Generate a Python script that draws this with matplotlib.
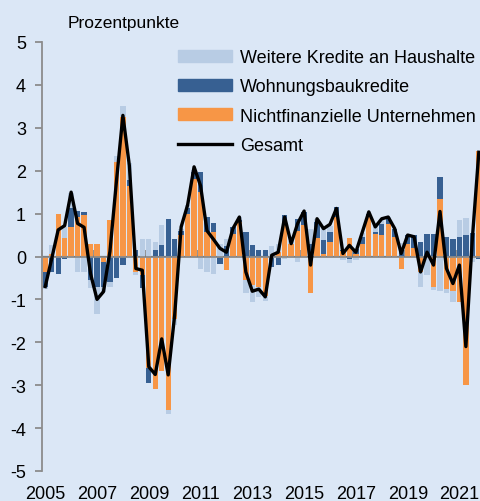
import numpy as np
import matplotlib
matplotlib.use("Agg")
import matplotlib.pyplot as plt
from matplotlib.lines import Line2D
from matplotlib.patches import Patch
from matplotlib.ticker import NullFormatter

plt.rcParams['font.family'] = ['Liberation Sans', 'DejaVu Sans']
plt.rcParams['axes.unicode_minus'] = False

# Quarterly categories 2005Q1 .. 2021Q4
quarters = [f"{y}-Q{q}" for y in range(2005, 2022) for q in range(1, 5)]

# Contributions (percentage points)
unternehmen = [-0.35, 0.05, 1.00, 0.42, 0.69, 0.92, 0.96, 0.28,
               0.30, -0.12, 0.85, 2.20, 3.25, 1.65, -0.36, -0.43,
               -2.60, -3.10, -2.67, -3.58, -1.45, 0.50, 1.00, 1.81,
               1.50, 0.57, 0.57, 0.00, -0.32, 0.53, 0.80, -0.55,
               -0.67, -0.70, -0.92, 0.00, 0.10, 0.80, 0.30, 0.60,
               0.73, -0.86, 0.42, 0.05, 0.34, 0.92, 0.12, 0.42,
               0.05, 0.30, 0.95, 0.53, 0.50, 0.75, 0.45, -0.28,
               0.30, 0.19, -0.36, 0.00, -0.70, 1.35, -0.75, -0.80,
               -1.05, -3.00, 0.00, 2.45]
wohnungsbau = [-0.35, -0.36, -0.40, -0.05, 0.45, 0.15, 0.07, -0.55,
               -0.70, -0.60, -0.60, -0.50, -0.20, 0.13, 0.15, -0.30,
               -0.36, 0.15, 0.26, 0.88, 0.40, 0.10, 0.12, 0.16,
               0.47, 0.35, 0.20, -0.18, 0.25, 0.15, 0.05, 0.57,
               0.26, 0.15, 0.15, -0.25, -0.20, 0.16, 0.00, 0.27,
               0.31, 0.30, 0.38, 0.33, 0.23, 0.23, 0.04, -0.05,
               0.12, 0.15, 0.05, 0.05, 0.25, 0.12, 0.20, 0.20,
               0.19, 0.31, 0.34, 0.53, 0.53, 0.50, 0.45, 0.40,
               0.45, 0.50, 0.55, -0.05]
weitere = [-0.05, 0.22, 0.00, 0.27, 0.33, -0.35, -0.35, -0.19,
           -0.63, -0.10, -0.10, 0.15, 0.25, 0.40, -0.07, 0.40,
           0.40, 0.19, 0.47, -0.08, -0.15, 0.05, 0.08, 0.05,
           -0.28, -0.36, -0.40, 0.30, 0.15, 0.00, 0.07, -0.31,
           -0.38, -0.25, -0.12, 0.25, 0.20, -0.05, 0.05, -0.12,
           0.00, 0.35, 0.08, 0.30, 0.15, 0.00, -0.08, -0.10,
           -0.07, 0.10, 0.00, 0.12, 0.12, 0.05, 0.00, 0.12,
           0.00, -0.04, -0.34, -0.43, -0.08, -0.80, -0.10, -0.25,
           0.40, 0.40, -0.12, 0.00]
gesamt = [-0.70, -0.05, 0.62, 0.72, 1.50, 0.77, 0.68, -0.40,
          -1.00, -0.82, 0.12, 1.75, 3.29, 2.12, -0.28, -0.32,
          -2.57, -2.75, -1.92, -2.76, -1.37, 0.69, 1.20, 2.09,
          1.65, 0.60, 0.40, 0.19, 0.10, 0.65, 0.92, -0.36,
          -0.81, -0.76, -0.94, 0.03, 0.10, 0.92, 0.30, 0.77,
          1.06, -0.20, 0.88, 0.65, 0.75, 1.12, 0.07, 0.26,
          0.10, 0.57, 1.04, 0.69, 0.88, 0.92, 0.65, 0.07,
          0.50, 0.46, -0.36, 0.10, -0.20, 1.05, -0.28, -0.63,
          -0.20, -2.10, 0.42, 2.43]

series_names = ["Weitere Kredite an Haushalte", "Wohnungsbaukredite",
                "Nichtfinanzielle Unternehmen", "Gesamt"]
year_ticks = [2005, 2007, 2009, 2011, 2013, 2015, 2017, 2019, 2021]
year_labels = [str(y) for y in year_ticks]
y_ticks = [-5, -4, -3, -2, -1, 0, 1, 2, 3, 4, 5]
y_label = "Prozentpunkte"

BG = '#dbe7f6'
C_L = '#b8cce4'
C_D = '#376092'
C_O = '#f79646'
GRAY = '#8c8c8c'

fig = plt.figure(figsize=(4.8, 5.02), dpi=100, facecolor=BG)
ax = fig.add_axes([42/480, 30/502, 453/480, 429/502], facecolor=BG)

x = np.array([int(q[:4]) + (int(q[-1]) - 0.5) / 4 for q in quarters])
w = 0.205
pos_base = np.zeros(len(x))
neg_base = np.zeros(len(x))
for vals, col in [(unternehmen, C_O), (wohnungsbau, C_D), (weitere, C_L)]:
    v = np.array(vals)
    p = np.where(v > 0, v, 0.0)
    n = np.where(v < 0, v, 0.0)
    ax.bar(x, p, w, bottom=pos_base, color=col, linewidth=0, zorder=2)
    ax.bar(x, n, w, bottom=neg_base, color=col, linewidth=0, zorder=2)
    pos_base += p
    neg_base += n

ax.axhline(0, color=GRAY, lw=1.3, zorder=3)
ax.plot(x, gesamt, color='black', lw=2.4, zorder=4)

ax.set_xlim(2005, 2022.5)
ax.set_ylim(-5, 5)
for s in ['top', 'right', 'bottom']:
    ax.spines[s].set_visible(False)
ax.spines['left'].set_color(GRAY)
ax.spines['left'].set_linewidth(1.3)
ax.set_yticks(y_ticks)
ax.set_yticklabels([str(v) for v in y_ticks])
ax.tick_params(axis='y', direction='out', length=5, width=1.3, color=GRAY,
               labelsize=13, pad=6.5)
ax.set_xticks([y + 0.135 for y in year_ticks])
ax.set_xticklabels(year_labels)
ax.tick_params(axis='x', length=0, labelsize=13, pad=10)

sec = ax.secondary_xaxis(0.5)
sec.spines['bottom'].set_visible(False)
sec.set_xticks(year_ticks)
sec.xaxis.set_major_formatter(NullFormatter())
sec.tick_params(axis='x', direction='out', length=4, width=1.3, color=GRAY,
                labelbottom=False)

fig.text(68/480, 1 - 28/502, y_label, fontsize=12.5, va='baseline')

handles = [Patch(color=C_L), Patch(color=C_D), Patch(color=C_O),
           Line2D([0], [0], color='black', lw=2.4)]
fig.legend(handles, series_names, loc='upper left',
           bbox_to_anchor=(178/480, 1 - 50/502), frameon=False, fontsize=13,
           handlelength=3.0, handleheight=0.67, handletextpad=0.45,
           labelspacing=0.68, borderpad=0, borderaxespad=0)

fig.savefig('out.png', dpi=100, facecolor=BG)
